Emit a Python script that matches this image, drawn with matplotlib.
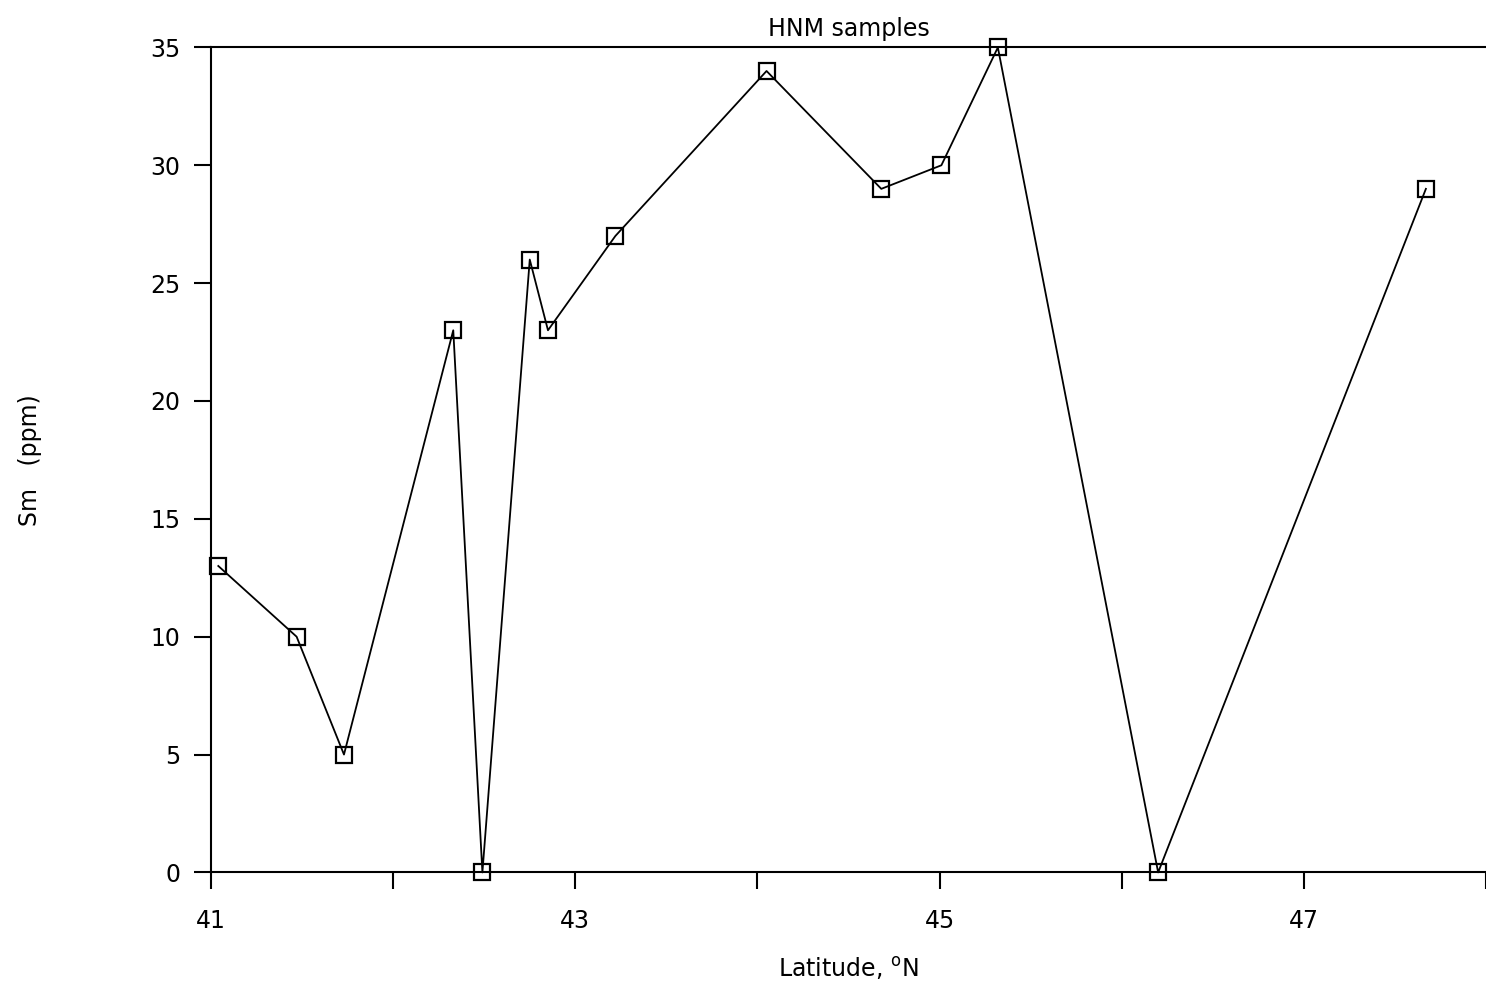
import matplotlib
matplotlib.use('Agg')
import matplotlib.pyplot as plt

# Sample data
latitude = [41.04, 41.47, 41.73, 42.33, 42.49, 42.75, 42.85, 43.22, 44.05, 44.68, 45.01, 45.32, 46.2, 47.67]
sm_ppm = [13.0, 10.0, 5.0, 23.0, 0.0, 26.0, 23.0, 27.0, 34.0, 29.0, 30.0, 35.0, 0.0, 29.0]
x_ticks = [41, 42, 43, 44, 45, 46, 47, 48]
x_labels = ['41', '', '43', '', '45', '', '47', '']
y_ticks = [0, 5, 10, 15, 20, 25, 30, 35]

fig = plt.figure(figsize=(14.86, 9.88), dpi=100)
ax = fig.add_axes([0.142, 0.117, 0.858, 0.835])

# Line with hollow square markers
ax.plot(latitude, sm_ppm, color='black', linewidth=1.3, marker='s', markersize=12,
        markerfacecolor='none', markeredgecolor='black', markeredgewidth=1.6, clip_on=False)

ax.set_xlim(41, 48)
ax.set_ylim(0, 35)
ax.set_xticks(x_ticks)
ax.set_xticklabels(x_labels)
ax.set_yticks(y_ticks)

# Left, top and bottom lines only
ax.spines['right'].set_visible(False)
for side in ['left', 'top', 'bottom']:
    ax.spines[side].set_linewidth(1.5)

ax.tick_params(axis='x', direction='out', length=12, width=1.5, pad=14, labelsize=17, top=False)
ax.tick_params(axis='y', direction='out', length=12, width=1.5, pad=10, labelsize=17, right=False)

# Labels and title
ax.set_title('HNM samples', fontsize=17, pad=8)
ax.set_xlabel('Latitude, $^{\\mathrm{o}}$N', fontsize=17, labelpad=16)
ax.set_ylabel('Sm   (ppm)', fontsize=17, labelpad=78)

fig.savefig('out.png', dpi=100)
